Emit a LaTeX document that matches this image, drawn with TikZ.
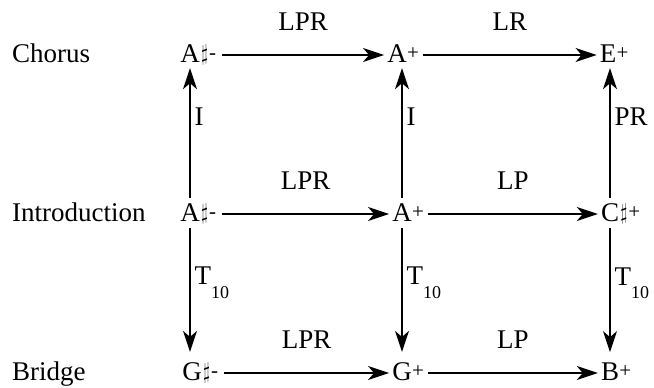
\documentclass[tikz,border=0pt]{standalone}
\usepackage{fontspec}
\setmainfont{Liberation Serif}
\usetikzlibrary{arrows.meta,positioning}
\newcommand{\shp}{\hspace{1pt}\setbox0\hbox{\resizebox*{7pt}{20pt}{$\sharp$}}\raise\dimexpr\dp0-3pt\relax\box0\hspace{1pt}}
\newcommand{\pls}{\raisebox{0.2ex}{\fontsize{21}{21}\selectfont +}}
\newcommand{\mns}{\raisebox{0.2ex}{\fontsize{21}{21}\selectfont -}}
\newcommand{\Tten}{T\raisebox{-1.1ex}{\fontsize{18}{18}\selectfont 10}}
\begin{document}
\begin{tikzpicture}[x=1pt,y=-1pt,
  every node/.style={font=\fontsize{27}{30}\selectfont, inner sep=0pt},
  chord/.style={anchor=base},
  suffix/.style={anchor=base west},
  rowlab/.style={anchor=base west},
  conn/.style={-{Stealth[length=21pt,width=14pt,inset=6pt]}, line width=1.3pt},
  hlab/.style={midway, above=24pt},
  vlab/.style={anchor=north west, xshift=4pt}]
\useasboundingbox (0,0) rectangle (654,388);
% row labels
\node[rowlab] (chorus) at (12,62) {Chorus};
\node[rowlab] (intro) at (12,221) {Introduction};
\node[rowlab] (bridge) at (12,380) {Bridge};
% chords
\node[chord] (a1) at (190,62) {A};
\node[suffix] (a1s) at (a1.base east) {\shp\mns};
\node[chord] (a2) at (397,62) {A};
\node[suffix] (a2s) at (a2.base east) {\pls};
\node[chord] (a3) at (608,62) {E};
\node[suffix] (a3s) at (a3.base east) {\pls};
\node[chord] (b1) at (190,221) {A};
\node[suffix] (b1s) at (b1.base east) {\shp\mns};
\node[chord] (b2) at (402,221) {A};
\node[suffix] (b2s) at (b2.base east) {\pls};
\node[chord] (b3) at (610,221) {C};
\node[suffix] (b3s) at (b3.base east) {\shp\pls};
\node[chord] (c1) at (192,380) {G};
\node[suffix] (c1s) at (c1.base east) {\shp\mns};
\node[chord] (c2) at (402,380) {G};
\node[suffix] (c2s) at (c2.base east) {\pls};
\node[chord] (c3) at (610,380) {B};
\node[suffix] (c3s) at (c3.base east) {\pls};
% horizontal arrows
\draw[conn] ([xshift=6pt,yshift=7pt]a1s.base east) -- ([xshift=-3pt,yshift=7pt]a2.base west) node[hlab] {LPR};
\draw[conn] ([xshift=4pt,yshift=7pt]a2s.base east) -- ([xshift=-3pt,yshift=7pt]a3.base west) node[hlab] {LR};
\draw[conn] ([xshift=6pt,yshift=7pt]b1s.base east) -- ([xshift=-3pt,yshift=7pt]b2.base west) node[hlab] {LPR};
\draw[conn] ([xshift=4pt,yshift=7pt]b2s.base east) -- ([xshift=-3pt,yshift=7pt]b3.base west) node[hlab] {LP};
\draw[conn] ([xshift=6pt,yshift=7pt]c1s.base east) -- ([xshift=-3pt,yshift=7pt]c2.base west) node[hlab] {LPR};
\draw[conn] ([xshift=4pt,yshift=7pt]c2s.base east) -- ([xshift=-3pt,yshift=7pt]c3.base west) node[hlab] {LP};
% vertical arrows
\draw[conn] ([yshift=5pt]b1.north) -- ([yshift=-6pt]a1.south) node[vlab, pos=0.7] {I};
\draw[conn] ([yshift=5pt]b2.north) -- ([yshift=-6pt]a2.south-|b2.north) node[vlab, pos=0.7] {I};
\draw[conn] ([yshift=5pt]b3.north) -- ([yshift=-6pt]a3.south-|b3.north) node[vlab, pos=0.7] {PR};
\draw[conn] ([yshift=-7pt]b1.south) -- ([yshift=10pt]c1.north-|b1.south) node[vlab, pos=0.31] {\Tten};
\draw[conn] ([yshift=-7pt]b2.south) -- ([yshift=10pt]c2.north) node[vlab, pos=0.31] {\Tten};
\draw[conn] ([yshift=-7pt]b3.south) -- ([yshift=10pt]c3.north-|b3.south) node[vlab, pos=0.31] {\Tten};
\end{tikzpicture}
\end{document}
